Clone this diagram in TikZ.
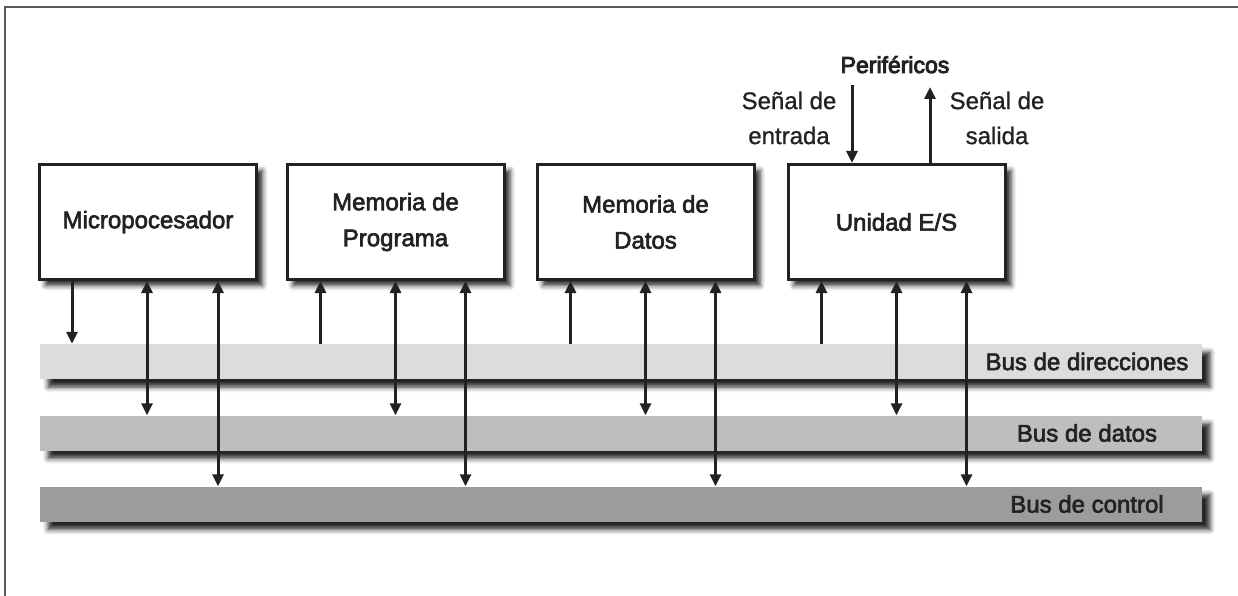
\documentclass[tikz,border=0pt]{standalone}
\usepackage{fontspec}
\setmainfont{Liberation Sans}
\newfontfamily\medfont{Liberation Sans}[FakeBold=2.6]
\newfontfamily\heavyfont{Liberation Sans}[FakeBold=4]
\newfontfamily\lightfont{Liberation Sans}[FakeBold=1]
\usetikzlibrary{arrows.meta,shadows.blur,calc}

\definecolor{ink}{HTML}{222222}
\definecolor{framegray}{HTML}{5A5A5A}
\definecolor{busA}{HTML}{DCDCDC}
\definecolor{busB}{HTML}{BEBEBE}
\definecolor{busC}{HTML}{9C9C9C}

\tikzset{
  unitbox/.style={draw=ink, line width=3pt, fill=white,
    minimum width=217pt, minimum height=115pt, align=center,
    text=ink, font=\medfont\fontsize{24}{36}\selectfont,
    blur shadow={shadow xshift=6pt, shadow yshift=-6pt, shadow blur radius=5pt, shadow opacity=85}},
  busbar/.style={fill=#1, draw=none, minimum width=1162pt, minimum height=35pt,
    inner sep=0pt,
    blur shadow={shadow xshift=8pt, shadow yshift=-8pt, shadow blur radius=5pt, shadow opacity=85}},
  buslabel/.style={text=ink, font=\medfont\fontsize{24}{28}\selectfont, inner sep=0pt},
  sidelabel/.style={text=ink, font=\lightfont\fontsize{24}{35}\selectfont, align=center, inner sep=0pt},
  arr/.style={draw=ink, line width=3pt, -{Triangle[length=12pt,width=11pt]}},
  dblarr/.style={draw=ink, line width=3pt, {Triangle[length=12pt,width=11pt]}-{Triangle[length=12pt,width=11pt]}},
}

\begin{document}
\begin{tikzpicture}[x=1pt,y=-1pt]
\useasboundingbox (0,0) rectangle (1238,596);
\clip (0,0) rectangle (1238,596);

% outer frame, running past the right and bottom edges
\draw[framegray, line width=2pt] (5,7) rectangle (1260,620);

% buses
\node[busbar=busA] (dir) at (621,361.5) {};
\node[busbar=busB] (dat) at (621,433) {};
\node[busbar=busC] (ctl) at (621,504) {};
\node[buslabel] (ldir) at (1087,361.5) {Bus de direcciones};
\node[buslabel] (ldat) at (1087,433) {Bus de datos};
\node[buslabel] (lctl) at (1087,504) {Bus de control};

% functional blocks
\node[unitbox] (cpu) at (148,222) {Micropocesador};
\node[unitbox] (prog) at (395.5,222) {Memoria de\\Programa};
\node[unitbox] (data) at (645.5,222) {Memoria de\\Datos};
\node[unitbox] (io) at (896.5,222) {Unidad E/S};

% CPU drives the address bus
\draw[arr] ($(cpu.south west)+(34,0)$) coordinate (c1) -- (c1 |- dir.north);
\draw[dblarr] ($(cpu.south west)+(109,0)$) coordinate (c2) -- (c2 |- dat.north);
\draw[dblarr] ($(cpu.south west)+(180,0)$) coordinate (c3) -- (c3 |- ctl.north);

% the other blocks read the address bus
\foreach \blk in {prog,data,io}{
  \coordinate (a) at ($(\blk.south west)+(35,0)$);
  \draw[arr] (a |- dir.north) -- (a);
  \draw[dblarr] ($(\blk.south west)+(110,0)$) coordinate (b) -- (b |- dat.north);
  \draw[dblarr] ($(\blk.south west)+(180,0)$) coordinate (c) -- (c |- ctl.north);
}

% peripherals
\node[text=ink, font=\heavyfont\fontsize{23}{26}\selectfont, inner sep=0pt, anchor=base] (per) at (895,73) {Periféricos};
\coordinate (pin) at (852,85);
\coordinate (pout) at (930,87);
\draw[arr] (pin) -- (pin |- io.north);
\draw[arr] (pout |- io.north) -- (pout);
\node[sidelabel] (sin) at (789,118) {Señal de\\entrada};
\node[sidelabel] (sout) at (997,118) {Señal de\\salida};
\end{tikzpicture}
\end{document}
